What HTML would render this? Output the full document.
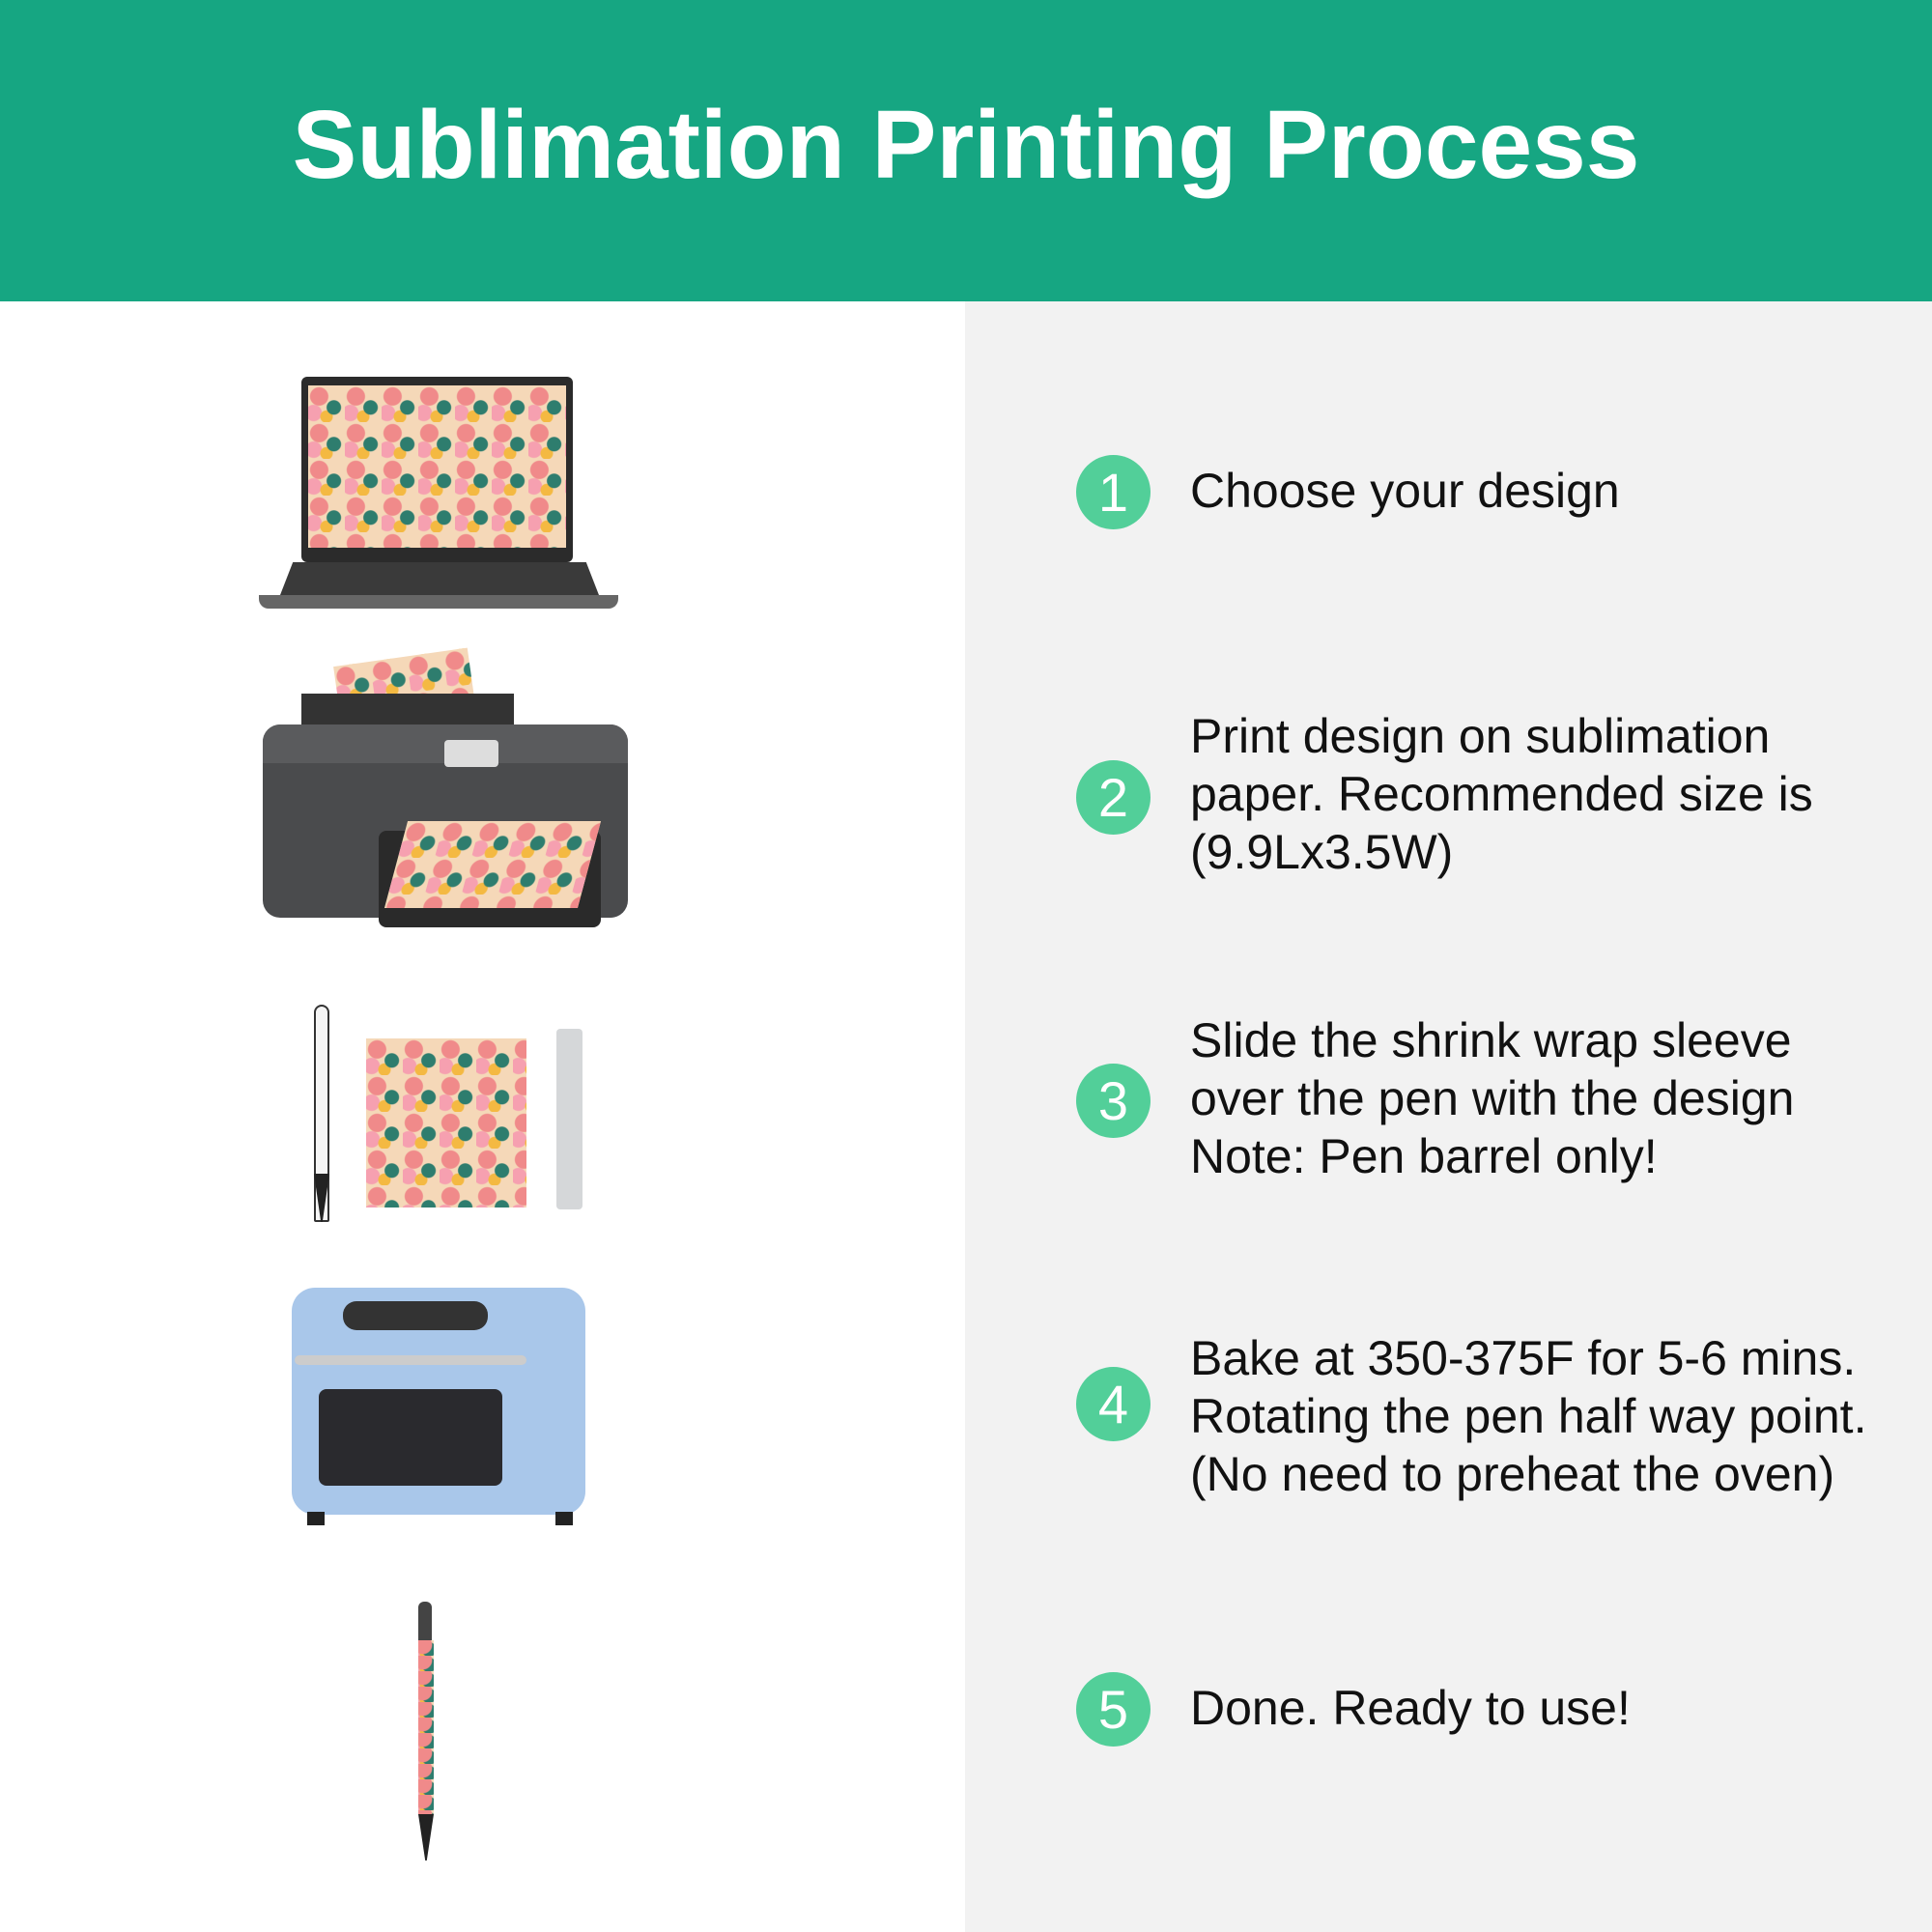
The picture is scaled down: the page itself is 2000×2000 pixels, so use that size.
<!DOCTYPE html>
<html><head><meta charset="utf-8"><style>
*{margin:0;padding:0;box-sizing:border-box}
body{width:2000px;height:2000px;position:relative;background:#fff;font-family:"Liberation Sans",Arial,sans-serif;overflow:hidden}
.hdr{position:absolute;left:0;top:0;width:2000px;height:312px;background:#16a682;color:#fff;font-weight:bold;font-size:100px;text-align:center;line-height:300px}
.rp{position:absolute;left:999px;top:312px;width:1001px;height:1688px;background:#f2f2f2}
.c{position:absolute;left:1114px;width:77px;height:77px;border-radius:50%;background:#52cf99;color:#fff;font-size:56px;text-align:center;line-height:77px}
.t{position:absolute;left:1232px;font-size:50px;line-height:60px;color:#111}
.fl{background-color:#f5d8b8;background-image:radial-gradient(circle at 30% 30%,#f08a8a 0 9px,transparent 10px),radial-gradient(circle at 70% 60%,#2e7d6e 0 7px,transparent 8px),radial-gradient(circle at 50% 85%,#f4b942 0 6px,transparent 7px),radial-gradient(circle at 15% 75%,#f6a0b0 0 8px,transparent 9px);background-size:38px 38px}
.a{position:absolute}
</style></head><body>
<div class="hdr">Sublimation Printing Process</div>
<div class="rp"></div>

<div class="c" style="top:471px">1</div>
<div class="t" style="top:478px">Choose your design</div>
<div class="c" style="top:787px">2</div>
<div class="t" style="top:732px">Print design on sublimation<br>paper. Recommended size is<br>(9.9Lx3.5W)</div>
<div class="c" style="top:1101px">3</div>
<div class="t" style="top:1047px">Slide the shrink wrap sleeve<br>over the pen with the design<br>Note: Pen barrel only!</div>
<div class="c" style="top:1415px">4</div>
<div class="t" style="top:1376px">Bake at 350-375F for 5-6 mins.<br>Rotating the pen half way point.<br>(No need to preheat the oven)</div>
<div class="c" style="top:1731px">5</div>
<div class="t" style="top:1738px">Done. Ready to use!</div>

<!-- laptop -->
<div class="a" style="left:312px;top:390px;width:281px;height:192px;background:#2b2b2b;border-radius:6px"></div>
<div class="a fl" style="left:319px;top:399px;width:267px;height:168px"></div>
<div class="a" style="left:290px;top:582px;width:330px;height:34px;background:#3a3a3a;clip-path:polygon(4% 0,96% 0,100% 100%,0 100%)"></div>
<div class="a" style="left:268px;top:616px;width:372px;height:14px;background:#666;border-radius:0 0 10px 10px"></div>

<!-- printer -->
<div class="a fl" style="left:350px;top:680px;width:140px;height:80px;transform:rotate(-8deg)"></div>
<div class="a" style="left:312px;top:718px;width:220px;height:50px;background:#333"></div>
<div class="a" style="left:272px;top:750px;width:378px;height:200px;background:#4a4b4d;border-radius:18px"></div>
<div class="a" style="left:272px;top:750px;width:378px;height:40px;background:#5a5b5d;border-radius:18px 18px 0 0"></div>
<div class="a" style="left:460px;top:766px;width:56px;height:28px;background:#ddd;border-radius:4px"></div>
<div class="a" style="left:392px;top:860px;width:230px;height:100px;background:#2a2a2a;border-radius:8px"></div>
<div class="a fl" style="left:410px;top:850px;width:200px;height:90px;transform:skewX(-15deg)"></div>

<!-- pen, paper, sleeve -->
<div class="a" style="left:325px;top:1040px;width:16px;height:225px;background:#f5f5f5;border:2px solid #333;border-radius:8px 8px 2px 2px"></div>
<div class="a" style="left:325px;top:1215px;width:16px;height:50px;background:#222;clip-path:polygon(0 0,100% 0,55% 100%,45% 100%)"></div>
<div class="a fl" style="left:379px;top:1075px;width:166px;height:175px"></div>
<div class="a" style="left:576px;top:1065px;width:27px;height:187px;background:#d5d7d9;border-radius:4px"></div>

<!-- oven -->
<div class="a" style="left:302px;top:1333px;width:304px;height:235px;background:#a9c7ea;border-radius:24px"></div>
<div class="a" style="left:355px;top:1347px;width:150px;height:30px;background:#333;border-radius:14px"></div>
<div class="a" style="left:305px;top:1403px;width:240px;height:10px;background:#ccc;border-radius:5px"></div>
<div class="a" style="left:330px;top:1438px;width:190px;height:100px;background:#2a2a2e;border-radius:8px"></div>
<div class="a" style="left:318px;top:1565px;width:18px;height:14px;background:#222"></div>
<div class="a" style="left:575px;top:1565px;width:18px;height:14px;background:#222"></div>

<!-- final pen -->
<div class="a" style="left:433px;top:1658px;width:14px;height:40px;background:#444;border-radius:6px 6px 0 0"></div>
<div class="a fl" style="left:433px;top:1698px;width:16px;height:180px;background-size:16px 16px"></div>
<div class="a" style="left:433px;top:1878px;width:16px;height:48px;background:#222;clip-path:polygon(0 0,100% 0,55% 100%,45% 100%)"></div>
</body></html>
